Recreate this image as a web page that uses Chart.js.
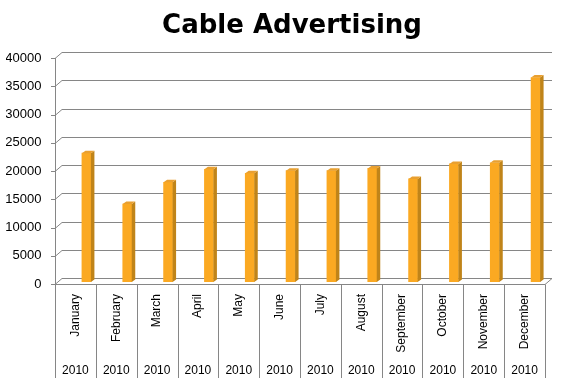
<!DOCTYPE html>
<html>
<head>
<meta charset="utf-8">
<script src="https://cdn.jsdelivr.net/npm/chart.js@4"></script>
<style>
  html, body { margin: 0; padding: 0; background: #fff; }
  #wrap { width: 580px; height: 392px; }
</style>
</head>
<body>
<div id="wrap"><canvas id="cableChart" width="580" height="392"></canvas></div>
<script>
const months = ['January', 'February', 'March', 'April', 'May', 'June',
  'July', 'August', 'September', 'October', 'November', 'December'];
const years = ['2010', '2010', '2010', '2010', '2010', '2010',
  '2010', '2010', '2010', '2010', '2010', '2010'];
const spend = [22800, 13800, 17650, 19950, 19250, 19700,
  19700, 20100, 18250, 20900, 21100, 36200];
const yTicks = [0, 5000, 10000, 15000, 20000, 25000, 30000, 35000, 40000];

const gridColor = '#868686';
const depth = { dx: 7, dy: 6 };     // back wall offset
const barDepth = { dx: 3.5, dy: 2.5 }; // column side / top
const barShift = { dx: 11, dy: -2 };

// fake Excel-style 3D frame + column faces
const threeD = {
  id: 'threeD',
  beforeDatasetsDraw(chart) {
    const { ctx, chartArea: a, scales: { x, y, x2 } } = chart;
    ctx.save();
    ctx.strokeStyle = gridColor;
    ctx.lineWidth = 1;
    ctx.beginPath();
    yTicks.forEach(v => {
      const py = Math.round(y.getPixelForValue(v)) + 0.5;
      ctx.moveTo(a.left - 4, py);
      ctx.lineTo(a.left, py);
      ctx.lineTo(a.left + depth.dx, py - depth.dy);
      if (v > 0) ctx.lineTo(a.right + depth.dx, py - depth.dy);
    });
    // front y axis
    const lx = Math.round(a.left) + 0.5;
    ctx.moveTo(lx, y.getPixelForValue(40000));
    ctx.lineTo(lx, a.bottom);
    // floor
    const fy = Math.round(a.bottom) + 0.5;
    ctx.moveTo(a.left + depth.dx, fy - depth.dy);
    ctx.lineTo(a.right + depth.dx, fy - depth.dy);
    ctx.lineTo(a.right, fy);
    ctx.lineTo(a.left, fy);
    // category dividers through both label rows
    const step = x.getPixelForValue(1) - x.getPixelForValue(0);
    for (let i = 0; i <= months.length; i++) {
      const px = Math.round(x.getPixelForValue(i) - step / 2) + 0.5;
      ctx.moveTo(px, fy);
      ctx.lineTo(px, x2.bottom);
    }
    ctx.stroke();
    ctx.restore();

    ctx.save();
    ctx.translate(barShift.dx, barShift.dy);
  },
  afterDatasetsDraw(chart) {
    const { ctx } = chart;
    chart.getDatasetMeta(0).data.forEach(bar => {
      const l = bar.x - bar.width / 2, r = bar.x + bar.width / 2;
      ctx.fillStyle = '#C08419';
      ctx.beginPath();
      ctx.moveTo(r, bar.y);
      ctx.lineTo(r + barDepth.dx, bar.y - barDepth.dy);
      ctx.lineTo(r + barDepth.dx, bar.base - barDepth.dy);
      ctx.lineTo(r, bar.base);
      ctx.closePath();
      ctx.fill();
      ctx.fillStyle = '#E9A030';
      ctx.beginPath();
      ctx.moveTo(l, bar.y);
      ctx.lineTo(l + barDepth.dx, bar.y - barDepth.dy);
      ctx.lineTo(r + barDepth.dx, bar.y - barDepth.dy);
      ctx.lineTo(r, bar.y);
      ctx.closePath();
      ctx.fill();
    });
    ctx.restore();
  }
};

new Chart(document.getElementById('cableChart'), {
  type: 'bar',
  data: {
    labels: months,
    datasets: [{
      label: 'Cable Advertising',
      data: spend,
      backgroundColor: '#FBA922',
      barThickness: 9,
      xAxisID: 'x'
    }]
  },
  options: {
    responsive: false,
    animation: false,
    layout: { padding: { left: 6, right: 2, top: 0, bottom: 14 } },
    plugins: {
      legend: { display: false },
      tooltip: { enabled: false },
      title: {
        display: true,
        text: 'Cable Advertising',
        color: '#000',
        font: { family: 'DejaVu Sans', size: 26, weight: 'bold' },
        padding: { top: 11, bottom: 15.8 }
      }
    },
    scales: {
      y: {
        min: 0,
        max: 40000,
        ticks: {
          stepSize: 5000,
          color: '#000',
          padding: 13.5,
          font: { family: 'Liberation Sans', size: 13 },
          callback: v => String(v)
        },
        grid: { display: false, drawTicks: false },
        border: { display: false },
        afterFit: s => { s.width = 49; }
      },
      // empty space right of the plot, keeps the title centred on the page
      yRight: {
        position: 'right',
        ticks: { display: false },
        grid: { display: false, drawTicks: false },
        border: { display: false },
        afterFit: s => { s.width = 33; }
      },
      x: {
        offset: true,
        ticks: {
          minRotation: 90,
          maxRotation: 90,
          autoSkip: false,
          padding: 10,
          color: '#000',
          font: { family: 'Liberation Sans', size: 12 }
        },
        grid: { display: false, drawTicks: false },
        border: { display: false },
        afterFit: s => { s.height = 69; }
      },
      x2: {
        type: 'category',
        position: 'bottom',
        labels: years,
        offset: true,
        ticks: {
          autoSkip: false,
          maxRotation: 0,
          padding: 10.8,
          color: '#000',
          font: { family: 'Liberation Sans', size: 12 }
        },
        grid: { display: false, drawTicks: false },
        border: { display: false },
        afterFit: s => { s.height = 25; }
      }
    }
  },
  plugins: [threeD]
});
</script>
</body>
</html>
